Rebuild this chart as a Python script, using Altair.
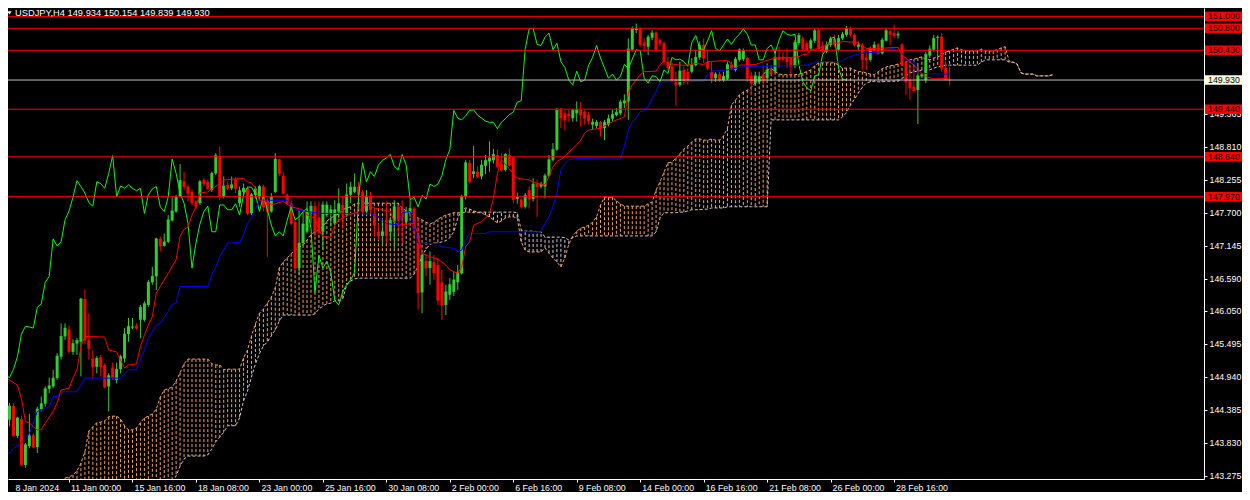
import altair as alt
import pandas as pd

FONT = "Liberation Sans"

# ---------------- data ----------------
opens = [144.37,144.22,144.45,143.95,144.23,143.46,143.78,143.96,143.76,144.40,
 144.49,144.74,144.78,144.92,145.28,145.62,145.74,145.36,145.50,145.53,
 146.25,145.56,145.25,145.11,145.27,145.14,144.78,145.10,144.89,145.07,
 145.25,145.66,145.77,145.80,145.90,145.90,146.15,146.53,146.63,147.26,
 147.14,147.21,147.57,147.72,147.98,148.23,148.14,148.05,147.89,147.86,
 148.25,148.22,148.08,148.36,148.65,147.97,148.17,148.11,148.26,147.86,
 148.05,148.11,147.69,148.00,147.98,148.14,147.89,147.72,148.05,148.60,
 148.32,148.00,147.86,147.54,146.77,147.19,147.38,147.69,147.81,147.62,
 147.38,147.66,147.68,147.52,147.72,147.83,147.66,148.00,148.05,148.14,
 148.05,147.72,147.97,147.68,147.38,147.31,147.58,147.38,147.55,147.80,
 147.79,147.55,147.69,147.77,147.33,146.36,146.89,146.77,146.87,146.82,
 146.53,146.15,146.32,146.37,146.53,146.68,147.97,148.54,148.35,148.39,
 148.31,148.49,148.56,148.58,148.67,148.52,148.42,148.67,148.63,147.93,
 147.92,147.80,148.08,147.93,148.19,148.14,148.14,148.32,148.59,148.76,
 149.43,149.37,149.36,149.29,149.37,149.43,149.40,149.35,149.18,149.16,
 149.22,149.12,149.18,149.28,149.34,149.37,149.54,149.57,150.44,150.77,
 150.79,150.56,150.49,150.64,150.73,150.60,150.55,150.24,150.16,149.95,
 149.85,150.10,150.07,150.07,150.18,150.31,150.52,150.24,150.07,149.96,
 150.03,149.93,149.95,150.19,150.10,150.27,150.28,150.30,150.00,149.88,
 149.90,150.02,149.96,150.08,150.07,150.32,150.32,150.30,150.30,150.16,
 150.55,150.63,150.55,150.46,150.59,150.77,150.51,150.41,150.52,150.62,
 150.44,150.63,150.69,150.79,150.69,150.49,150.52,150.30,150.27,150.44,
 150.53,150.38,150.59,150.75,150.72,150.68,150.53,150.23,149.93,149.82,
 149.76,149.99,149.93,150.34,150.44,150.64,150.66,150.14,149.934]

highs = [144.67,144.50,144.50,144.27,144.29,143.83,144.32,143.99,144.44,144.61,
 144.78,144.93,145.06,145.34,145.84,145.84,145.81,145.57,145.59,146.27,
 146.41,146.01,145.39,145.29,145.31,145.17,145.00,145.18,145.18,145.31,
 145.76,145.93,145.93,145.84,146.15,146.21,146.57,146.79,147.28,147.30,
 147.35,147.66,147.97,148.00,148.52,148.39,148.17,148.09,147.91,148.25,
 148.28,148.26,148.39,148.70,148.81,148.31,148.22,148.31,148.30,148.14,
 148.19,148.14,148.03,148.14,148.17,148.17,147.94,148.03,148.70,148.61,
 148.39,148.03,147.91,147.58,147.75,147.72,147.89,147.89,147.89,147.89,
 147.89,147.89,147.83,147.91,148.11,147.97,148.19,148.22,148.36,148.22,
 148.08,148.08,148.05,147.77,147.52,147.58,147.89,147.63,147.91,147.83,
 147.91,147.80,147.91,147.80,147.61,147.02,146.99,147.05,146.99,146.94,
 146.74,146.49,146.60,146.70,146.82,148.00,148.59,148.59,148.82,148.48,
 148.59,148.67,148.90,148.77,148.76,148.70,148.70,148.78,148.64,148.04,
 147.94,148.03,148.14,148.28,148.25,148.22,148.36,148.67,148.87,149.46,
 149.46,149.42,149.43,149.44,149.57,149.56,149.43,149.40,149.28,149.26,
 149.24,149.26,149.35,149.43,149.46,149.60,149.69,150.63,150.83,150.88,
 150.81,150.63,150.69,150.77,150.75,150.63,150.58,150.32,150.21,150.07,
 150.24,150.16,150.13,150.30,150.44,150.58,150.63,150.44,150.24,150.06,
 150.07,150.07,150.24,150.24,150.32,150.46,150.46,150.32,150.07,150.07,
 150.07,150.18,150.21,150.18,150.46,150.49,150.41,150.46,150.31,150.60,
 150.72,150.66,150.58,150.63,150.79,150.79,150.58,150.58,150.66,150.69,
 150.69,150.74,150.84,150.83,150.72,150.58,150.55,150.38,150.49,150.58,
 150.55,150.64,150.80,150.77,150.86,150.75,150.55,150.25,150.18,150.16,
 150.18,150.04,150.40,150.51,150.69,150.68,150.72,150.24,150.154]

lows = [144.11,144.11,143.94,143.91,143.45,143.41,143.74,143.74,143.66,144.36,
 144.44,144.67,144.75,144.89,145.23,145.56,145.34,145.31,145.31,144.95,
 145.51,145.23,144.92,145.00,144.95,144.75,144.36,144.89,144.83,145.00,
 145.18,145.53,145.74,145.73,145.59,145.87,146.12,146.49,146.40,147.05,
 147.13,147.19,147.55,147.70,147.96,148.08,147.89,147.83,147.75,147.83,
 148.14,148.08,148.05,148.33,147.91,147.94,148.08,148.08,148.03,147.80,
 148.00,147.66,147.66,147.94,147.91,147.72,146.96,147.70,148.03,148.31,
 148.00,147.83,147.49,146.68,146.65,147.16,147.35,147.52,147.30,147.33,
 147.07,147.63,147.47,147.49,147.61,147.44,147.63,147.86,148.03,147.75,
 147.69,147.66,147.69,147.30,147.24,147.19,147.19,147.24,147.10,147.33,
 147.19,147.49,147.63,147.30,146.07,146.01,146.63,146.49,146.57,146.15,
 145.90,145.98,146.23,146.30,146.40,146.66,147.92,148.19,148.28,148.28,
 148.26,148.35,148.39,148.53,148.45,148.39,148.39,148.48,147.86,147.85,
 147.77,147.77,147.77,147.89,147.63,148.11,147.94,148.30,148.56,148.74,
 149.12,149.09,149.23,149.23,149.23,149.15,149.18,149.18,149.09,149.12,
 148.98,148.92,149.15,149.23,149.32,149.34,149.46,149.26,150.41,150.72,
 150.49,150.41,150.35,150.60,150.41,150.49,150.18,150.07,149.90,149.50,
 149.82,149.85,149.85,150.04,150.16,150.27,150.21,150.10,149.88,149.90,
 149.90,149.90,149.93,150.10,150.07,150.24,150.25,149.90,149.68,149.85,
 149.88,149.85,149.93,150.02,150.06,150.13,150.24,150.13,150.02,150.13,
 150.52,150.41,150.41,150.44,150.55,150.44,150.35,150.38,150.49,150.49,
 150.41,150.60,150.66,150.66,150.49,150.42,150.10,150.10,150.24,150.41,
 150.36,150.36,150.58,150.52,150.63,150.63,150.18,149.68,149.60,149.72,
 149.19,149.96,149.88,150.30,150.41,150.32,150.07,149.93,149.839]

closes = [144.22,144.45,143.95,144.25,143.46,143.80,143.95,143.76,144.40,144.49,
 144.74,144.79,144.92,145.29,145.62,145.76,145.37,145.50,145.55,146.25,
 145.56,145.42,145.11,145.25,145.11,144.77,144.96,144.93,145.07,145.28,
 145.66,145.79,145.78,145.76,146.11,146.17,146.53,146.63,147.26,147.14,
 147.21,147.58,147.73,147.96,148.24,148.14,148.03,147.87,147.81,148.22,
 148.19,148.11,148.36,148.66,147.97,148.15,148.11,148.17,148.11,148.07,
 148.11,147.69,148.00,148.10,148.14,147.80,147.72,147.96,148.60,148.36,
 148.03,147.86,147.52,146.77,147.19,147.51,147.72,147.81,147.38,147.38,
 147.83,147.83,147.75,147.75,147.85,147.66,148.00,148.13,148.13,148.01,
 147.72,147.98,147.75,147.49,147.31,147.38,147.31,147.57,147.80,147.58,
 147.63,147.72,147.77,147.44,146.36,146.98,146.77,146.88,146.69,146.23,
 146.15,146.37,146.49,146.57,146.70,147.97,148.54,148.22,148.39,148.31,
 148.50,148.58,148.62,148.68,148.48,148.42,148.68,148.50,147.92,147.96,
 147.80,147.99,147.93,148.18,148.14,148.18,148.32,148.59,148.76,149.42,
 149.29,149.26,149.33,149.42,149.43,149.34,149.29,149.24,149.22,149.22,
 149.11,149.22,149.28,149.35,149.39,149.56,149.58,150.45,150.79,150.80,
 150.53,150.51,150.65,150.72,150.44,150.55,150.24,150.14,149.93,149.85,
 150.08,149.90,149.93,150.18,150.31,150.51,150.30,150.13,149.96,150.03,
 149.93,149.99,150.19,150.13,150.28,150.44,150.42,149.96,149.88,150.00,
 149.99,149.90,150.10,150.04,150.31,150.27,150.28,150.24,150.16,150.56,
 150.68,150.46,150.44,150.59,150.76,150.46,150.42,150.52,150.62,150.53,
 150.63,150.70,150.79,150.70,150.52,150.52,150.27,150.27,150.46,150.52,
 150.38,150.60,150.76,150.70,150.68,150.70,150.19,149.90,149.80,149.75,
 150.00,150.02,150.36,150.45,150.63,150.65,150.13,149.94,149.930]

tenkan_bars = [0,1,3,4,5,6,7,8,9,10,12,13,14,16,17,18,19,20,25,26,
 28,29,30,31,33,34,35,36,37,38,40,41,43,44,45,46,47,48,49,51,
 54,55,60,61,62,63,64,66,67,70,72,75,76,78,79,80,82,83,84,86,
 89,91,93,95,97,98,99,103,104,105,107,109,111,112,114,115,116,117,118,120,
 121,122,123,124,125,128,129,132,134,136,137,138,139,141,142,144,145,146,147,150,
 153,156,157,158,159,160,161,164,165,166,167,170,172,174,176,177,180,182,183,184,
 185,189,190,191,194,198,199,200,201,202,203,205,206,207,208,210,211,215,216,217,
 220,225,226,227,229,231,232,234,238]
tenkan_vals = [144.90,144.89,144.80,144.58,144.19,144.17,144.10,144.05,144.05,144.16,
 144.36,144.50,144.72,144.75,144.92,145.06,145.45,145.62,145.61,145.39,
 145.36,145.22,145.09,145.14,145.16,145.45,145.64,145.81,145.95,146.35,
 146.57,146.68,146.91,147.30,147.42,147.46,147.66,147.80,148.03,148.05,
 148.19,148.25,148.28,148.22,148.20,148.11,147.91,147.91,147.83,147.89,
 147.80,147.75,147.66,147.61,147.41,147.30,147.29,147.49,147.58,147.65,
 147.72,147.83,147.78,147.75,147.72,147.55,147.49,147.52,147.33,147.02,
 146.96,146.92,146.82,146.74,146.68,146.79,147.13,147.21,147.49,147.55,
 147.61,147.69,147.94,148.36,148.59,148.36,148.28,148.25,148.19,148.17,
 148.31,148.47,148.56,148.64,148.72,148.84,148.92,149.04,149.09,149.12,
 149.23,149.31,149.71,149.85,149.93,150.02,150.07,150.08,150.18,150.25,
 150.21,150.18,150.18,150.21,150.19,150.24,150.25,150.26,150.20,150.13,
 150.18,150.19,150.21,150.24,150.30,150.31,150.32,150.32,150.36,150.36,
 150.44,150.46,150.49,150.52,150.55,150.55,150.58,150.56,150.49,150.46,
 150.46,150.48,150.35,150.30,150.18,150.04,149.99,149.95,149.96]

kijun_bars = [0,1,2,4,5,6,7,8,10,11,12,13,14,18,19,20,29,31,33,34,
 35,36,38,39,41,42,43,44,51,52,53,54,56,59,60,61,62,63,64,71,
 72,73,76,79,92,93,95,96,99,100,102,103,104,109,110,113,114,115,116,117,
 121,122,135,136,137,138,139,140,141,142,144,155,156,157,158,159,160,161,162,163,
 164,165,176,177,178,182,185,187,199,202,204,206,209,211,212,214,216,220,223,225,
 226,227,229,230,238]
kijun_vals = [143.66,143.66,143.74,143.83,143.91,143.99,144.16,144.36,144.41,144.44,
 144.61,144.61,144.69,144.69,144.80,144.92,144.92,145.06,145.06,145.23,
 145.39,145.59,145.81,145.84,146.04,146.16,146.18,146.46,146.46,146.65,
 146.79,146.96,147.19,147.20,147.33,147.52,147.61,147.77,147.91,147.91,
 147.83,147.75,147.72,147.69,147.68,147.66,147.58,147.52,147.49,147.70,
 147.72,147.47,147.19,147.18,147.13,147.10,147.05,147.07,147.24,147.35,
 147.35,147.38,147.38,147.52,147.63,147.80,148.03,148.42,148.53,148.59,
 148.61,148.60,148.81,149.09,149.23,149.29,149.40,149.41,149.48,149.62,
 149.73,149.90,149.91,150.02,150.08,150.10,150.14,150.16,150.17,150.18,
 150.23,150.24,150.24,150.25,150.30,150.35,150.38,150.40,150.45,150.48,
 150.38,150.27,150.24,150.04,150.03]

span_first_bar = 15
span_a = [143.24,143.26,143.29,143.36,143.49,143.68,
 144.03,144.10,144.17,144.18,144.20,144.27,144.28,144.28,144.23,144.12,
 144.05,144.05,144.08,144.17,144.25,144.28,144.32,144.40,144.60,144.72,
 144.74,144.77,144.87,145.01,145.16,145.24,145.24,145.24,145.24,145.24,
 145.24,145.16,145.14,145.14,145.06,145.07,145.07,145.07,145.07,145.26,
 145.39,145.63,145.83,146.01,146.08,146.18,146.28,146.44,146.77,146.87,
 146.94,147.01,147.07,147.12,147.16,147.24,147.33,147.38,147.41,147.46,
 147.56,147.61,147.65,147.68,147.75,147.78,147.80,147.85,147.86,147.86,
 147.86,147.86,147.86,147.86,147.86,147.86,147.86,147.86,147.86,147.78,
 147.73,147.70,147.65,147.61,147.58,147.54,147.51,147.54,147.59,147.63,
 147.66,147.68,147.70,147.70,147.70,147.71,147.71,147.70,147.70,147.70,
 147.66,147.63,147.58,147.53,147.56,147.61,147.63,147.63,147.61,147.21,
 147.07,147.04,147.04,147.04,147.04,147.11,147.02,146.94,146.87,146.79,
 146.94,147.17,147.31,147.39,147.44,147.46,147.49,147.54,147.63,147.83,
 147.96,147.96,147.96,147.90,147.85,147.81,147.81,147.81,147.81,147.81,
 147.81,147.85,147.88,148.08,148.22,148.38,148.54,148.55,148.62,148.69,
 148.77,148.82,148.89,148.94,148.94,148.92,148.92,148.94,148.92,148.92,
 148.99,149.12,149.51,149.59,149.68,149.73,149.76,149.81,149.88,149.91,
 150.02,150.10,150.13,150.07,150.03,150.02,150.02,150.02,150.02,150.03,
 150.05,150.07,150.10,150.17,150.22,150.22,150.22,150.22,150.22,150.18,
 150.13,150.13,150.13,150.10,150.07,150.07,150.05,150.03,150.02,150.07,
 150.12,150.15,150.17,150.18,150.20,150.22,150.23,150.27,150.28,150.30,
 150.32,150.28,150.27,150.30,150.32,150.35,150.40,150.42,150.45,150.47,
 150.44,150.42,150.42,150.42,150.42,150.45,150.42,150.42,150.42,150.44,
 150.47,150.49,150.25,150.23,150.20,150.05,150.03,150.03,150.03,150.00,
 150.00,150.00,150.00,150.02]
span_b = [142.90,142.90,142.90,142.90,142.90,142.90,
 142.90,142.90,142.90,142.90,142.90,142.90,142.90,142.90,142.90,142.90,
 142.90,142.90,142.90,142.90,142.90,142.90,142.90,142.90,142.90,143.12,
 143.12,143.12,143.28,143.44,143.56,143.61,143.61,143.61,143.61,143.61,
 143.63,143.73,143.85,143.93,144.01,144.12,144.12,144.12,144.25,144.54,
 144.70,144.94,145.16,145.33,145.46,145.53,145.63,145.73,145.88,145.98,
 145.98,145.98,145.98,145.98,145.98,145.98,145.98,146.00,146.08,146.13,
 146.17,146.18,146.22,146.22,146.25,146.49,146.55,146.59,146.60,146.60,
 146.60,146.60,146.60,146.60,146.60,146.60,146.60,146.60,146.60,146.60,
 146.60,146.60,146.67,146.80,146.97,147.09,147.17,147.19,147.19,147.21,
 147.23,147.28,147.38,147.61,147.75,147.78,147.76,147.73,147.71,147.71,
 147.71,147.71,147.71,147.71,147.71,147.71,147.71,147.71,147.70,147.41,
 147.39,147.39,147.39,147.38,147.38,147.29,147.29,147.29,147.29,147.29,
 147.28,147.24,147.28,147.31,147.31,147.31,147.31,147.31,147.31,147.31,
 147.31,147.31,147.31,147.31,147.31,147.31,147.31,147.31,147.31,147.31,
 147.31,147.31,147.31,147.38,147.61,147.70,147.70,147.70,147.70,147.71,
 147.71,147.73,147.75,147.75,147.75,147.76,147.76,147.78,147.78,147.78,
 147.78,147.80,147.80,147.80,147.80,147.80,147.80,147.80,147.80,147.80,
 147.80,147.80,149.26,149.26,149.26,149.26,149.26,149.26,149.26,149.26,
 149.26,149.26,149.26,149.26,149.26,149.26,149.26,149.26,149.26,149.26,
 149.31,149.38,149.51,149.61,149.71,149.81,149.88,149.90,149.91,149.90,
 149.90,149.91,149.91,149.91,149.91,149.96,150.00,150.05,150.07,150.08,
 150.10,150.10,150.10,150.13,150.15,150.17,150.18,150.18,150.18,150.18,
 150.18,150.18,150.18,150.18,150.18,150.23,150.27,150.27,150.27,150.27,
 150.27,150.27,150.23,150.23,150.20,150.05,150.03,150.03,150.03,150.00,
 150.00,150.00,150.00,150.02]

chikou_shift = 26
red_levels = [151.000, 150.800, 150.430, 149.440, 148.640, 147.970]
last_price = 149.930
y_ticks = [143.275, 143.830, 144.385, 144.940, 145.495, 146.050, 146.590,
           147.145, 147.700, 148.255, 148.810, 149.365]
x_label_bars = [0, 16, 32, 48, 64, 80, 96, 112, 128, 144, 160, 176, 192, 208, 224]
x_label_text = ["8 Jan 2024", "11 Jan 00:00", "15 Jan 16:00", "18 Jan 08:00",
                "23 Jan 00:00", "25 Jan 16:00", "30 Jan 08:00", "2 Feb 00:00",
                "6 Feb 16:00", "9 Feb 08:00", "14 Feb 00:00", "16 Feb 16:00",
                "21 Feb 08:00", "26 Feb 00:00", "28 Feb 16:00"]
title_text = "USDJPY,H4  149.934 150.154 149.839 149.930"

# ---------------- tables ----------------
n = len(closes)
candles = pd.DataFrame({"bar": list(range(n)), "open": opens, "high": highs,
                        "low": lows, "close": closes})
cloud = pd.DataFrame({"bar": list(range(span_first_bar, span_first_bar + len(span_a))),
                      "A": span_a, "B": span_b})
chikou = pd.DataFrame({"bar": list(range(n - chikou_shift)), "v": closes[chikou_shift:]})
tenkan = pd.DataFrame({"bar": tenkan_bars, "v": tenkan_vals})
kijun = pd.DataFrame({"bar": kijun_bars, "v": kijun_vals})
levels = pd.DataFrame({"price": red_levels})
last = pd.DataFrame({"price": [last_price]})
xlab = pd.DataFrame({"bar": x_label_bars, "text": x_label_text})
one = pd.DataFrame({"t": [title_text]})

# ---------------- scales / axes ----------------
W, H = 1196, 471
xscale = alt.Scale(domain=[1.875, 300.875], nice=False, zero=False)
yscale = alt.Scale(domain=[143.224, 151.141], nice=False, zero=False)
xaxis = alt.Axis(values=x_label_bars[1:], labels=False, ticks=True, tickSize=3,
                 tickColor="#FFFFFF", domainColor="#FFFFFF", grid=False, title="")
yaxis = alt.Axis(orient="right", values=y_ticks, format=".3f", labelColor="#FFFFFF",
                 labelFont=FONT, labelFontSize=8.8, tickColor="#FFFFFF", tickSize=3,
                 domainColor="#FFFFFF", grid=False, title="", labelPadding=2)


def X(f):
    return alt.X(f"{f}:Q", scale=xscale, axis=xaxis)


def Y(f):
    return alt.Y(f"{f}:Q", scale=yscale, axis=yaxis)


GREEN, RED = "#32CD32", "#FF0000"
candle_color = alt.condition(alt.datum.close >= alt.datum.open, alt.value(GREEN), alt.value(RED))

hatch = alt.Chart(cloud).mark_rule(strokeDash=[3, 2], strokeWidth=1, clip=True).encode(
    x=X("bar"), y=Y("A"), y2="B",
    color=alt.condition(alt.datum.A >= alt.datum.B, alt.value("#F4A460"), alt.value("#D8BFD8")))
line_a = alt.Chart(cloud).mark_line(color="#F4A460", strokeDash=[3, 2], strokeWidth=1, clip=True).encode(
    x=X("bar"), y=Y("A"))
line_b = alt.Chart(cloud).mark_line(color="#D8BFD8", strokeDash=[3, 2], strokeWidth=1, clip=True).encode(
    x=X("bar"), y=Y("B"))

wick = alt.Chart(candles).mark_rule(strokeWidth=1, clip=True).encode(
    x=X("bar"), y=Y("low"), y2="high", color=candle_color)
body = alt.Chart(candles).mark_bar(size=3, clip=True).encode(
    x=X("bar"), y=Y("open"), y2="close", color=candle_color)
ctick = alt.Chart(candles).mark_tick(orient="horizontal", size=3, thickness=1, clip=True).encode(
    x=X("bar"), y=Y("close"), color=candle_color)

chikou_l = alt.Chart(chikou).mark_line(color="#00FF00", strokeWidth=1, clip=True).encode(x=X("bar"), y=Y("v"))
kijun_l = alt.Chart(kijun).mark_line(color="#0000FF", strokeWidth=1, clip=True).encode(x=X("bar"), y=Y("v"))
tenkan_l = alt.Chart(tenkan).mark_line(color="#FF0000", strokeWidth=1, clip=True).encode(x=X("bar"), y=Y("v"))

lvl = alt.Chart(levels).mark_rule(color="#FF0000", strokeWidth=1).encode(y=Y("price"))
lst = alt.Chart(last).mark_rule(color="#C0C0C0", strokeWidth=1).encode(y=Y("price"))

box_red = alt.Chart(levels).mark_rule(color="#FF0000", strokeWidth=9.5, strokeCap="butt").encode(
    x=alt.value(W + 1), x2=alt.value(W + 38), y=Y("price"))
box_red_t = alt.Chart(levels).transform_calculate(lbl="format(datum.price, '.3f')").mark_text(
    align="left", baseline="middle", font=FONT, fontSize=8.8, color="#000000").encode(
    x=alt.value(W + 4), y=Y("price"), text="lbl:N")
box_last = alt.Chart(last).mark_rule(color="#FFFDE0", strokeWidth=9.5, strokeCap="butt").encode(
    x=alt.value(W + 1), x2=alt.value(W + 38), y=Y("price"))
box_last_t = alt.Chart(last).transform_calculate(lbl="format(datum.price, '.3f')").mark_text(
    align="left", baseline="middle", font=FONT, fontSize=8.8, color="#000000").encode(
    x=alt.value(W + 4), y=Y("price"), text="lbl:N")

xlabels = alt.Chart(xlab).transform_calculate(pos="max(datum.bar, 2)").mark_text(
    align="left", baseline="middle", dx=2, font=FONT, fontSize=8.8, color="#FFFFFF").encode(
    x=X("pos"), y=alt.value(H + 9), text="text:N")

title = alt.Chart(one).mark_text(align="left", baseline="middle", font=FONT, fontSize=9.3,
                                 color="#FFFFFF").encode(x=alt.value(7), y=alt.value(5), text="t:N")
tri = alt.Chart(one).mark_point(shape="triangle-down", filled=True, color="#FFFFFF", size=16,
                                opacity=1).encode(x=alt.value(1.5), y=alt.value(5))

chart = alt.layer(
    hatch, line_a, line_b, wick, body, ctick, chikou_l, kijun_l, tenkan_l,
    lvl, lst, box_red, box_red_t, box_last, box_last_t, xlabels, title, tri
).properties(
    width=W, height=H, background="#000000",
    padding={"left": 0, "top": 0, "right": 38, "bottom": 13},
    autosize=alt.AutoSizeParams(type="none"),
).configure_view(stroke=None)

chart.save("out.html", embed_options={"renderer": "svg", "actions": False})
